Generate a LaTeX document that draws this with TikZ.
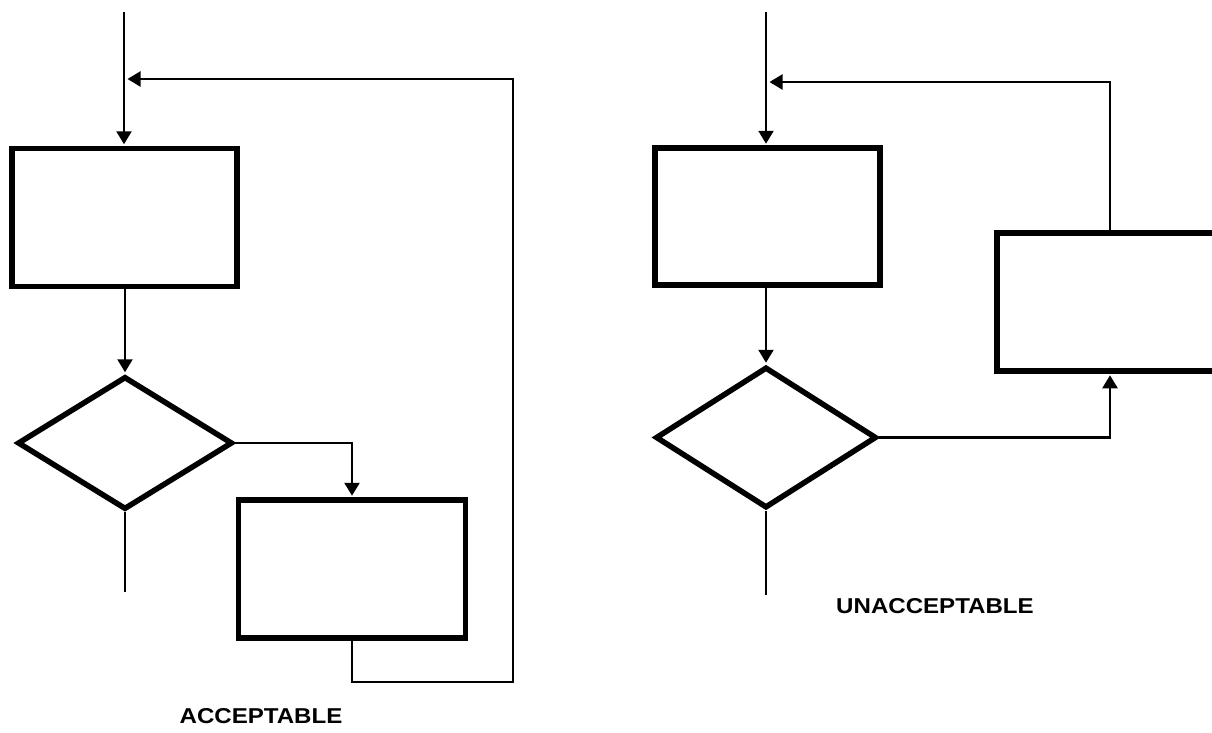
\documentclass[tikz,border=0pt]{standalone}
\usepackage{fontspec}
\newfontfamily\labfont[FakeStretch=1.12]{Liberation Sans}
\usetikzlibrary{shapes.geometric,arrows.meta}
\begin{document}
\begin{tikzpicture}[x=1pt,y=-1pt,
  box/.style={draw,line width=5.5pt,rectangle,inner sep=0pt},
  dia/.style={draw,line width=5.5pt,diamond,inner sep=0pt},
  conn/.style={line width=2.3pt},
  arr/.style={conn,-{Triangle[length=13pt,width=15pt]},shorten >=1.5pt},
  lab/.style={font=\labfont\bfseries\fontsize{21.5}{25}\selectfont,inner sep=0pt}]
\useasboundingbox (0,0) rectangle (1212,732);
\clip (0,0) rectangle (1212,732);
% ---------- left (acceptable) ----------
\coordinate (s1) at (124,12);
\node[box,minimum width=225pt,minimum height=138pt] (b1) at (124.5,217.5) {};
\node[dia,minimum width=215pt,minimum height=133pt] (d1) at (125,443) {};
\node[box,minimum width=227pt,minimum height=138pt] (b2) at (352,569) {};
\coordinate (j1) at (126,79);
\coordinate (l2) at (513,682);
\coordinate (e1) at (125,592);
\draw[arr] (s1) -- (s1 |- b1.north);
\draw[arr] (d1.north |- b1.south) -- (d1.north);
\draw[conn] (d1.south) -- (e1);
\draw[arr] (d1.east) -| (b2.north);
\draw[arr] (b2.south) |- (l2) |- (j1);
\node[lab] (t1) at (261,716) {ACCEPTABLE};
% ---------- right (unacceptable) ----------
\coordinate (s2) at (766,12);
\node[box,minimum width=225pt,minimum height=137pt] (b3) at (767.5,216.5) {};
\node[dia,minimum width=221pt,minimum height=141pt] (d2) at (766,437.5) {};
\node[box,minimum width=240pt,minimum height=138pt] (b4) at (1117,302) {};
\coordinate (j2) at (768,82);
\coordinate (k2) at (1110,82);
\coordinate (e2) at (766,595);
\draw[arr] (s2) -- (s2 |- b3.north);
\draw[arr] (d2.north |- b3.south) -- (d2.north);
\draw[conn] (d2.south) -- (e2);
\draw[arr] (d2.east) -| (k2 |- b4.south);
\draw[arr] (k2 |- b4.north) -- (k2) -- (j2);
\node[lab] (t2) at (935,606) {UNACCEPTABLE};
\end{tikzpicture}
\end{document}
